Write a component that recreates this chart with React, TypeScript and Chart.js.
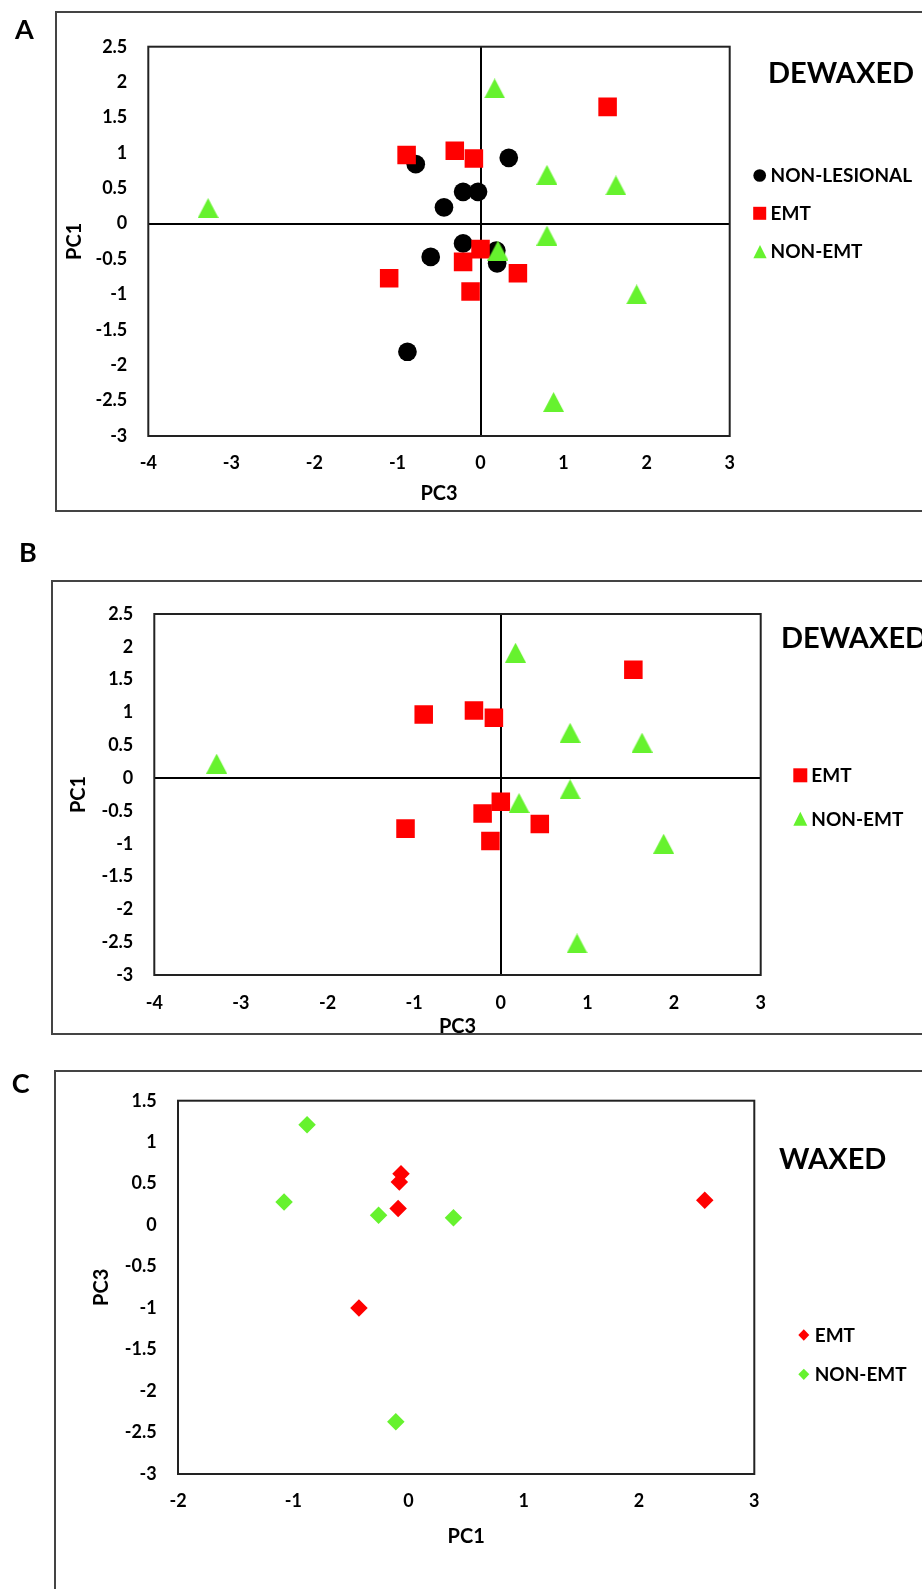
import React, { useEffect, useRef } from "react";
import { Chart, registerables } from "chart.js";

Chart.register(...registerables);

// ---------------- data ----------------
// Panels A and B (DEWAXED): x = PC3, y = PC1
const NONLES_PC3 = [-0.78, -0.21, -0.03, -0.44, -0.21, -0.6, -0.88, 0.34, 0.2, 0.19];
const NONLES_PC1 = [0.84, 0.45, 0.45, 0.23, -0.28, -0.47, -1.81, 0.93, -0.56, -0.38];
const EMT_PC3 = [-0.89, -0.31, -0.08, 1.53, 0.0, -0.21, -1.1, -0.12, 0.45];
const EMT_PC1 = [0.97, 1.03, 0.92, 1.65, -0.36, -0.54, -0.77, -0.96, -0.7];
const NONEMT_PC3 = [-3.28, 0.17, 0.8, 1.63, 0.8, 0.21, 1.88, 0.88];
const NONEMT_PC1 = [0.22, 1.91, 0.69, 0.54, -0.17, -0.38, -1.0, -2.52];
// Panel C (WAXED): x = PC1, y = PC3
const WAX_EMT_PC1 = [-0.065, -0.08, -0.09, -0.43, 2.57];
const WAX_EMT_PC3 = [0.62, 0.52, 0.2, -1.0, 0.3];
const WAX_NONEMT_PC1 = [-0.88, -1.08, -0.26, 0.39, -0.11];
const WAX_NONEMT_PC3 = [1.21, 0.28, 0.12, 0.09, -2.37];

const SERIES_NAMES = ["NON-LESIONAL", "EMT", "NON-EMT"];
const PANEL_LETTERS = ["A", "B", "C"];
const PANEL_TITLES = ["DEWAXED", "DEWAXED", "WAXED"];
const DEWAX_X = { min: -4, max: 3, step: 1 };
const DEWAX_Y = { min: -3, max: 2.5, step: 0.5 };
const WAX_X = { min: -2, max: 3, step: 1 };
const WAX_Y = { min: -3, max: 1.5, step: 0.5 };

// ---------------- styles ----------------
const FONT = "Lato";
const RED = "#FF0000";
const GREEN = "#66F22E";
const BLACK = "#000000";
const W = 922;

const zip = (xs: number[], ys: number[]) => xs.map((x, i) => ({ x, y: ys[i] }));

function triangleImage(w: number, h: number, color: string) {
  const c = document.createElement("canvas");
  c.width = w;
  c.height = h;
  const g = c.getContext("2d")!;
  g.fillStyle = color;
  g.beginPath();
  g.moveTo(w / 2, 0);
  g.lineTo(w, h);
  g.lineTo(0, h);
  g.closePath();
  g.fill();
  return c;
}

function drawShape(ctx: CanvasRenderingContext2D, shape: string, x: number, y: number, w: number, h: number, color: string) {
  ctx.fillStyle = color;
  ctx.beginPath();
  if (shape === "circle") ctx.arc(x, y, w / 2, 0, Math.PI * 2);
  else if (shape === "square") ctx.rect(x - w / 2, y - h / 2, w, h);
  else if (shape === "triangle") {
    ctx.moveTo(x, y - h / 2);
    ctx.lineTo(x + w / 2, y + h / 2);
    ctx.lineTo(x - w / 2, y + h / 2);
    ctx.closePath();
  } else if (shape === "diamond") {
    ctx.moveTo(x, y - h / 2);
    ctx.lineTo(x + w / 2, y);
    ctx.lineTo(x, y + h / 2);
    ctx.lineTo(x - w / 2, y);
    ctx.closePath();
  }
  ctx.fill();
}

type LegendItem = { shape: string; color: string; cx: number; cy: number; w: number; h: number; text: string; tx: number; ty: number };
type Spec = {
  top: number;
  height: number;
  area: { left: number; top: number; right: number; bottom: number };
  xr: { min: number; max: number; step: number };
  yr: { min: number; max: number; step: number };
  xTitle: string;
  yTitle: string;
  xTickPad: number;
  yTickPad: number;
  xTitlePad: number;
  yTitlePad: number;
  zero: boolean;
  datasets: any[];
  legend: LegendItem[];
  letter: { text: string; x: number; y: number };
  title: { text: string; x: number; y: number };
};

function buildSpecs(): Spec[] {
  const tri = triangleImage(21, 20, GREEN);
  const dewaxSets = (withNL: boolean) => {
    const sets: any[] = [];
    if (withNL)
      sets.push({
        label: SERIES_NAMES[0],
        data: zip(NONLES_PC3, NONLES_PC1),
        pointStyle: "circle",
        pointRadius: 9.35,
        pointBackgroundColor: BLACK,
        pointBorderWidth: 0,
        order: 3,
      });
    sets.push({
      label: SERIES_NAMES[1],
      data: zip(EMT_PC3, EMT_PC1),
      pointStyle: "rect",
      pointRadius: 13.1,
      pointBackgroundColor: RED,
      pointBorderWidth: 0,
      order: 2,
    });
    sets.push({
      label: SERIES_NAMES[2],
      data: zip(NONEMT_PC3, NONEMT_PC1),
      pointStyle: tri,
      pointRadius: 10,
      pointBackgroundColor: GREEN,
      pointBorderWidth: 0,
      order: 1,
    });
    return sets;
  };
  const A: Spec = {
    top: 0,
    height: 520,
    area: { left: 148.3, top: 46.7, right: 729.7, bottom: 436 },
    xr: DEWAX_X,
    yr: DEWAX_Y,
    xTitle: "PC3",
    yTitle: "PC1",
    xTickPad: 16.7,
    yTickPad: 21,
    xTitlePad: 14,
    yTitlePad: 63,
    zero: true,
    datasets: dewaxSets(true),
    legend: [
      { shape: "circle", color: BLACK, cx: 759.7, cy: 175.5, w: 12.7, h: 12.7, text: SERIES_NAMES[0], tx: 770.5, ty: 181.7 },
      { shape: "square", color: RED, cx: 759.7, cy: 213.3, w: 13, h: 13, text: SERIES_NAMES[1], tx: 770.5, ty: 220 },
      { shape: "triangle", color: GREEN, cx: 760, cy: 251.7, w: 13.3, h: 13.3, text: SERIES_NAMES[2], tx: 770.5, ty: 258.3 },
    ],
    letter: { text: PANEL_LETTERS[0], x: 15, y: 39 },
    title: { text: PANEL_TITLES[0], x: 768, y: 83 },
  };
  const B: Spec = {
    top: 520,
    height: 530,
    area: { left: 154.3, top: 94, right: 760.7, bottom: 455 },
    xr: DEWAX_X,
    yr: DEWAX_Y,
    xTitle: "PC3",
    yTitle: "PC1",
    xTickPad: 17,
    yTickPad: 21,
    xTitlePad: 11,
    yTitlePad: 66.3,
    zero: true,
    datasets: dewaxSets(false),
    legend: [
      { shape: "square", color: RED, cx: 800.3, cy: 255.3, w: 14, h: 14, text: SERIES_NAMES[1], tx: 811.3, ty: 262.3 },
      { shape: "triangle", color: GREEN, cx: 800.3, cy: 298.7, w: 14, h: 14, text: SERIES_NAMES[2], tx: 811.3, ty: 305.7 },
    ],
    letter: { text: PANEL_LETTERS[1], x: 19, y: 41.7 },
    title: { text: PANEL_TITLES[1], x: 781, y: 128.3 },
  };
  const C: Spec = {
    top: 1050,
    height: 539,
    area: { left: 178, top: 50.7, right: 754.3, bottom: 424 },
    xr: WAX_X,
    yr: WAX_Y,
    xTitle: "PC1",
    yTitle: "PC3",
    xTickPad: 16.4,
    yTickPad: 21.3,
    xTitlePad: 40.3,
    yTitlePad: 89.7,
    zero: false,
    datasets: [
      {
        label: SERIES_NAMES[1],
        data: zip(WAX_EMT_PC1, WAX_EMT_PC3),
        pointStyle: "rectRot",
        pointRadius: 8.75,
        pointBackgroundColor: RED,
        pointBorderWidth: 0,
        order: 2,
      },
      {
        label: SERIES_NAMES[2],
        data: zip(WAX_NONEMT_PC1, WAX_NONEMT_PC3),
        pointStyle: "rectRot",
        pointRadius: 8.75,
        pointBackgroundColor: GREEN,
        pointBorderWidth: 0,
        order: 1,
      },
    ],
    legend: [
      { shape: "diamond", color: RED, cx: 803.8, cy: 285, w: 11, h: 11.3, text: SERIES_NAMES[1], tx: 814.7, ty: 291.7 },
      { shape: "diamond", color: GREEN, cx: 803.8, cy: 324.3, w: 11, h: 11.3, text: SERIES_NAMES[2], tx: 814.7, ty: 331 },
    ],
    letter: { text: PANEL_LETTERS[2], x: 11.7, y: 42.5 },
    title: { text: PANEL_TITLES[2], x: 779, y: 119 },
  };
  return [A, B, C];
}

const fmt = (v: any) => String(Math.round(Number(v) * 10) / 10);

function buildConfig(spec: Spec): any {
  const ca = spec.area;
  const tickFont = { family: FONT, weight: "bold" as const, size: 18 };
  const titleFont = { family: FONT, weight: "bold" as const, size: 20 };
  const gridColor = (c: any) => (spec.zero && c.tick && Math.abs(c.tick.value) < 1e-9 ? "#000000" : "rgba(0,0,0,0)");
  const decor = {
    id: "panelDecor",
    beforeDatasetsDraw(chart: any) {
      const { left, top, right, bottom } = chart.chartArea;
      const ctx = chart.ctx;
      ctx.save();
      ctx.strokeStyle = "#222222";
      ctx.lineWidth = 2;
      ctx.strokeRect(left, top, right - left, bottom - top);
      ctx.restore();
    },
    afterDraw(chart: any) {
      const ctx: CanvasRenderingContext2D = chart.ctx;
      ctx.save();
      for (const it of spec.legend) {
        drawShape(ctx, it.shape, it.cx, it.cy, it.w, it.h, it.color);
        ctx.fillStyle = "#000";
        ctx.font = `bold 19px ${FONT}`;
        ctx.textBaseline = "alphabetic";
        ctx.textAlign = "left";
        ctx.fillText(it.text, it.tx, it.ty);
      }
      ctx.fillStyle = "#000";
      ctx.textBaseline = "alphabetic";
      ctx.textAlign = "left";
      ctx.font = `bold 27px ${FONT}`;
      ctx.fillText(spec.letter.text, spec.letter.x, spec.letter.y);
      ctx.font = `bold 29px ${FONT}`;
      ctx.fillText(spec.title.text, spec.title.x, spec.title.y);
      ctx.restore();
    },
  };
  return {
    type: "scatter",
    data: { datasets: spec.datasets },
    options: {
      responsive: false,
      animation: false,
      devicePixelRatio: 1,
      events: [],
      layout: { padding: { left: 0, top: ca.top, right: W - ca.right, bottom: 0 } },
      plugins: { legend: { display: false }, tooltip: { enabled: false } },
      scales: {
        x: {
          type: "linear",
          position: "bottom",
          min: spec.xr.min,
          max: spec.xr.max,
          ticks: {
            stepSize: spec.xr.step,
            autoSkip: false,
            maxRotation: 0,
            minRotation: 0,
            maxTicksLimit: 100,
            padding: spec.xTickPad,
            font: tickFont,
            color: "#000",
            callback: fmt,
          },
          grid: { display: true, drawTicks: false, drawOnChartArea: true, color: gridColor, lineWidth: 2 },
          border: { display: false },
          title: { display: true, text: spec.xTitle, font: titleFont, color: "#000", padding: { top: 0, bottom: spec.xTitlePad } },
          afterFit: (s: any) => {
            s.height = spec.height - ca.bottom;
          },
        },
        y: {
          type: "linear",
          position: "left",
          min: spec.yr.min,
          max: spec.yr.max,
          ticks: {
            stepSize: spec.yr.step,
            autoSkip: false,
            maxTicksLimit: 100,
            padding: spec.yTickPad,
            font: tickFont,
            color: "#000",
            callback: fmt,
          },
          grid: { display: true, drawTicks: false, drawOnChartArea: true, color: gridColor, lineWidth: 2 },
          border: { display: false },
          title: { display: true, text: spec.yTitle, font: titleFont, color: "#000", padding: { top: spec.yTitlePad, bottom: 0 } },
          afterFit: (s: any) => {
            s.width = ca.left;
          },
        },
      },
    },
    plugins: [decor],
  };
}

function Panel({ spec }: { spec: Spec }) {
  const ref = useRef<HTMLCanvasElement>(null);
  useEffect(() => {
    const chart = new Chart(ref.current!, buildConfig(spec));
    return () => chart.destroy();
  }, [spec]);
  return (
    <canvas
      ref={ref}
      width={W}
      height={spec.height}
      style={{ position: "absolute", left: 0, top: spec.top, width: W, height: spec.height, display: "block" }}
    />
  );
}

const FRAMES = [
  { left: 55, top: 11, height: 501 },
  { left: 51, top: 580, height: 455 },
  { left: 54, top: 1070, height: 600 },
];

export default function App() {
  const specs = React.useMemo(() => buildSpecs(), []);
  return (
    <div style={{ position: "absolute", left: 0, top: 0, width: W, height: 1589, overflow: "hidden", background: "#fff" }}>
      {FRAMES.map((f, i) => (
        <div
          key={i}
          style={{
            position: "absolute",
            left: f.left,
            top: f.top,
            width: 1000,
            height: f.height,
            border: "2px solid #444",
            boxSizing: "border-box",
          }}
        />
      ))}
      {specs.map((s, i) => (
        <Panel key={i} spec={s} />
      ))}
    </div>
  );
}
